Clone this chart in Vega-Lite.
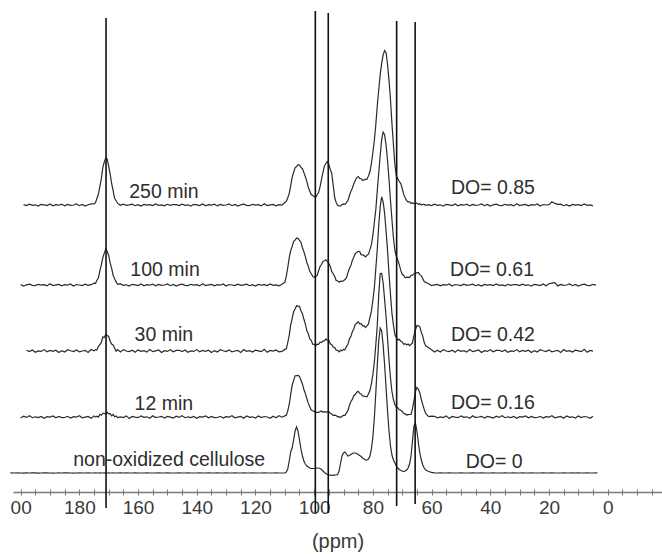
{
  "$schema": "https://vega.github.io/schema/vega-lite/v6.json",
  "width": 662,
  "height": 492,
  "autosize": {"type": "none"},
  "padding": {"left": 0, "top": 0, "right": 0, "bottom": 62},
  "background": "white",
  "config": {"view": {"stroke": null}, "font": "Liberation Sans"},
  "datasets": {
    "spectra": [
      {"p":[203.5,202,201,200,199,198,197,196,195,194],
       "a":[null,null,null,null,287.4,286.4,287.9,286.7,287.2,286.0],
       "b":[null,null,null,207.6,205.9,207.2,207.9,206.7,206.4,207.7],
       "c":[null,null,null,null,null,141.7,140.4,142.0,139.7,141.1],
       "d":[null,null,null,73.9,75.8,74.6,76.3,74.3,75.2,74.5],
       "e":[19.1,19.0,19.2,19.0,18.9,19.1,19.0,19.2,19.1,18.9]},
      {"p":[193,192,191,190,189,188,187,186,185,184],
       "a":[287.7,287.1,286.5,288.1,286.2,287.3,286.8,287.8,286.1,287.5],
       "b":[206.9,207.4,206.1,208.2,206.5,207.1,207.6,206.2,207.3,206.8],
       "c":[140.6,142.4,140.3,141.6,140.7,141.8,139.5,141.4,140.0,142.3],
       "d":[75.6,73.8,75.4,74.9,76.1,74.2,75.5,74.4,74.5,75.7],
       "e":[19.0,19.1,19.2,19.0,18.9,19.0,19.1,19.0,19.2,19.1]},
      {"p":[183,182,181,180,179,178],
       "a":[286.6,287.0,288.0,286.3,287.6,285.9],
       "b":[208.0,206.0,207.5,207.0,206.4,207.8],
       "c":[141.3,140.4,142.1,140.2,141.0,141.7],
       "d":[73.9,75.4,74.8,76.2,74.2,74.9],
       "e":[19.0,18.9,19.0,19.1,19.0,19.0]},
      {"p":[177,176,175,174.5,174,173.5,173,172.5,172,171.5],
       "a":[287.2,288.1,288.0,289.4,293.7,298.0,305.7,313.3,324.5,330.0],
       "b":[206.6,207.3,208.9,208.5,211.8,214.2,221.3,227.1,234.4,238.9],
       "c":[139.6,142.5,141.1,142.4,141.9,145.6,147.3,149.6,155.1,154.5],
       "d":[75.6,73.7,76.1,74.9,75.7,74.9,77.7,76.7,78.6,78.7],
       "e":[19.1,19.0,19.0,19.1,19.0,19.0,19.1,19.0,19.0,19.1]},
      {"p":[171,170.5,170,169.5,169,168.5,168,167.5,167,166],
       "a":[334.0,333.0,325.7,318.2,308.5,301.7,293.8,291.5,288.8,286.7],
       "b":[242.9,240.5,236.5,229.1,223.9,216.8,213.3,210.4,207.8,208.1],
       "c":[157.6,156.4,155.5,150.7,148.0,147.0,144.0,140.9,142.4,140.1],
       "d":[77.8,79.7,78.1,78.4,76.1,77.5,75.3,76.0,74.4,75.1],
       "e":[19.0,19.0,19.1,19.0,19.0,19.1,19.0,19.0,19.0,19.1]},
      {"p":[165,164,163,162,161,160,159,158,157,156],
       "a":[287.8,286.6,287.2,287.9,286.3,287.3,285.9,287.6,286.8,287.4],
       "b":[206.7,207.2,206.0,207.7,207.1,206.5,208.1,206.2,207.3,206.8],
       "c":[142.4,141.0,140.4,141.7,139.7,142.1,140.7,141.4,139.9,142.5],
       "d":[74.5,76.1,73.6,75.6,74.9,74.3,76.0,74.6,75.2,73.8],
       "e":[19.0,19.1,19.0,19.0,19.1,19.0,19.0,19.0,19.1,19.0]},
      {"p":[155,154,153,152,151,150,149,148,147,146],
       "a":[286.5,288.0,286.7,287.1,286.1,287.7,286.6,287.5,287.4,286.4],
       "b":[207.8,206.1,207.5,206.6,207.0,208.0,206.3,207.6,205.9,207.2],
       "c":[140.3,141.1,142.0,139.6,141.3,140.6,142.3,140.2,141.6,141.7],
       "d":[76.2,74.4,75.0,75.7,74.0,75.5,74.8,73.9,75.8,74.6],
       "e":[19.0,19.0,19.1,19.0,19.0,19.1,19.0,19.0,19.0,19.1]},
      {"p":[145,144,143,142,141,140,139,138,137,136],
       "a":[287.9,286.7,287.2,286.0,287.7,287.1,286.5,288.1,286.2,287.3],
       "b":[207.9,206.7,206.4,207.7,206.9,207.4,206.1,208.2,206.5,207.1],
       "c":[140.4,142.0,139.7,141.1,140.6,142.4,140.3,141.6,140.7,141.8],
       "d":[76.3,74.3,75.2,74.5,75.6,73.8,75.4,74.9,76.1,74.2],
       "e":[19.0,19.0,19.1,19.0,19.0,19.0,19.1,19.0,19.0,19.1]},
      {"p":[135,134,133,132,131,130,129,128,127,126],
       "a":[286.8,287.8,286.1,287.5,286.6,287.0,288.0,286.3,287.6,285.9],
       "b":[207.6,206.2,207.3,206.8,208.0,206.0,207.5,207.0,206.4,207.8],
       "c":[139.5,141.4,140.0,142.3,141.3,140.4,142.1,140.2,141.0,141.7],
       "d":[75.5,74.4,74.5,75.7,73.9,75.4,74.8,76.2,74.2,74.9],
       "e":[19.0,19.0,19.1,19.0,19.0,19.1,19.0,19.0,19.1,19.0]},
      {"p":[125,124,123,122,121,120,119,118,117,116],
       "a":[287.2,287.9,286.7,286.4,287.7,286.9,287.4,286.1,288.2,286.5],
       "b":[206.6,207.2,207.9,206.3,207.3,205.9,207.6,206.8,207.4,206.5],
       "c":[139.6,142.4,140.7,141.4,139.9,141.8,141.1,140.3,142.7,139.7],
       "d":[75.6,73.7,76.0,74.6,75.2,74.0,76.1,74.4,75.5,75.0],
       "e":[19.0,19.1,19.0,19.0,19.1,19.0,19.0,19.0,19.1,19.0]},
      {"p":[115,114,113,112,111],
       "a":[287.1,287.6,286.2,287.3,286.8],
       "b":[208.0,206.7,207.1,206.1,207.7],
       "c":[141.6,140.9,142.0,140.2,140.6],
       "d":[73.8,75.8,74.3,76.3,74.8],
       "e":[19.0,19.0,19.1,19.0,19.0]},
      {"p":[110,109.5,109,108.5,108,107.5,107,106.5,106,105.5],
       "a":[289.5,290.6,294.3,298.4,306.2,314.6,319.7,324.1,325.5,327.4],
       "b":[209.7,215.5,224.4,234.2,241.4,245.5,250.6,251.8,253.8,253.6],
       "c":[142.6,143.2,149.4,156.7,166.9,173.4,180.2,183.1,186.2,185.8],
       "d":[76.1,76.7,81.1,87.5,97.4,106.5,111.6,116.3,116.4,116.7],
       "e":[19,20,23,31,40,44,52,61,65,61]},
      {"p":[105,104.5,104,103.5,103,102.5,102,101.5,101,100.5],
       "a":[327.0,324.6,323.3,319.4,315.2,310.6,304.7,301.1,297.5,296.4],
       "b":[251.7,249.5,244.4,240.2,235.4,229.5,225.6,220.8,218.3,215.6],
       "c":[185.6,181.2,178.4,172.7,167.9,161.4,158.2,153.1,151.7,147.8],
       "d":[115.6,111.7,108.1,102.5,98.4,93.5,88.6,85.3,81.9,81.2],
       "e":[52,43,36,31,28,26,25,24,23.5,23.5]},
      {"p":[100,99.5,99,98.5,98,97.5,97,96.5,96,95.5],
       "a":[295.5,294.6,297.3,299.4,305.2,312.6,319.7,326.1,328.5,330.4],
       "b":[214.7,215.5,216.4,221.2,225.4,227.5,230.6,231.3,232.3,230.6],
       "c":[147.6,146.2,147.9,147.7,149.9,149.4,151.2,151.1,153.2,151.8],
       "d":[80.6,79.7,79.6,79.5,80.4,81.0,79.6,80.3,79.9,80.2],
       "e":[23.5,23.5,24,24,23.5,22.5,21,19.5,18.5,17.5]},
      {"p":[95,94.5,94,93.5,93,92.5,92,91.5,91,90.5],
       "a":[327.5,322.6,318.3,306.4,294.2,289.6,286.7,286.1,286.0,287.4],
       "b":[228.7,225.5,220.4,218.2,215.4,211.5,211.1,209.8,210.8,210.6],
       "c":[151.6,148.2,147.4,144.7,144.4,141.9,141.7,140.1,141.7,141.3],
       "d":[80.1,78.7,78.1,76.5,76.9,76.5,75.1,75.3,74.4,75.7],
       "e":[17,16.8,16.7,16.8,16.9,17,17.5,21,29,36]},
      {"p":[90,89.5,89,88.5,88,87.5,87,86.5,86,85.5],
       "a":[288.0,287.6,289.3,291.4,296.2,300.6,303.7,308.1,311.5,314.4],
       "b":[211.2,212.5,214.4,219.2,223.4,226.5,231.6,234.8,238.3,239.6],
       "c":[142.6,142.2,145.4,147.7,152.9,155.4,160.2,163.1,167.7,168.8],
       "d":[76.6,76.7,79.1,81.5,86.4,90.5,92.6,96.3,97.4,99.7],
       "e":[39,40,38,36,36.5,37.5,38.5,39,39,38.5]},
      {"p":[85,84.5,84,83.5,83,82.5,82,81.5,81,80.5],
       "a":[315.5,313.6,313.3,311.4,312.2,312.6,312.7,316.1,320.5,328.4],
       "b":[240.7,240.5,237.4,237.2,236.4,235.0,236.6,237.8,242.3,247.6],
       "c":[170.1,168.2,168.4,166.2,166.4,164.4,166.2,168.1,174.7,180.8],
       "d":[100.6,98.7,98.1,96.0,95.9,95.5,95.1,98.3,101.4,108.2],
       "e":[37.5,36.5,35.5,34,33,32,32,33,36,43]},
      {"p":[80,79.5,79,78.5,78,77.5,77,76.5,76,75.5],
       "a":[339.5,351.6,367.3,386.4,402.2,417.6,428.7,437.1,441.5,439.4],
       "b":[256.7,269.5,282.4,301.2,319.4,336.5,352.6,359.8,357.3,346.6],
       "c":[191.6,204.2,223.4,242.7,266.9,285.4,295.2,290.1,278.7,260.8],
       "d":[117.6,129.7,147.1,166.5,197.4,218.5,218.6,209.3,192.4,175.2],
       "e":[55,74,99,127,151,164,161,147,127,104]},
      {"p":[75,74.5,74,73.5,73,72.5,72,71.5,71,70.5],
       "a":[427.5,411.6,392.3,368.4,347.2,327.6,315.7,313.1,310.5,308.4],
       "b":[331.7,312.5,291.4,272.2,254.4,241.5,235.6,231.8,227.3,221.6],
       "c":[241.6,218.2,197.4,178.7,166.9,157.4,154.2,152.1,152.7,150.8],
       "d":[153.6,131.7,114.1,100.5,92.4,87.5,84.6,84.3,82.4,81.7],
       "e":[81,61,46,37,32,29,26,24,22.5,21.5]},
      {"p":[70,69.5,69,68.5,68,67.5,67,66.5,66,65.5],
       "a":[303.5,297.6,294.3,291.4,290.2,290.1,288.7,289.1,288.5,288.9],
       "b":[217.7,216.5,214.4,214.7,214.9,214.5,216.6,216.8,218.3,218.6],
       "c":[150.1,147.7,148.4,147.2,147.9,146.4,147.7,149.1,156.7,161.8],
       "d":[80.6,78.7,78.1,77.0,77.4,77.5,77.6,83.3,91.4,100.2],
       "e":[21,20.5,21,22,24,28,36,51,66,69]},
      {"p":[65,64.5,64,63.5,63,62.5,62],
       "a":[289.0,287.6,288.3,286.9,287.7,287.6,286.7],
       "b":[219.2,219.5,217.4,216.2,213.4,210.5,209.6],
       "c":[166.6,166.2,165.4,159.7,155.9,149.4,146.2],
       "d":[104.6,102.7,99.1,92.5,87.4,82.5,78.6],
       "e":[61,49,39,32,27,24,22]},
      {"p":[61,60,59,58,57,56,55,54,53,52],
       "a":[287.4,286.4,287.9,286.7,287.2,286.0,287.7,287.1,286.5,288.1],
       "b":[208.2,206.5,207.1,207.6,206.2,207.3,206.8,208.0,206.0,207.5],
       "c":[144.3,142.3,140.0,141.8,140.0,142.4,141.0,140.4,141.7,139.7],
       "d":[75.4,75.9,75.7,74.2,75.1,74.5,76.1,73.6,75.6,74.9],
       "e":[20.5,19.6,19.2,19.0,19.1,19.0,19.0,19.1,19.0,19.0]},
      {"p":[51,50,49,48,47,46,45,44,43,42],
       "a":[286.2,287.3,286.8,287.8,286.1,287.5,286.6,287.0,288.0,286.3],
       "b":[207.0,206.4,207.8,206.6,207.2,207.9,206.3,207.3,205.9,207.6],
       "c":[142.1,140.7,141.4,139.9,142.5,140.3,141.1,142.0,139.6,141.3],
       "d":[74.3,76.0,74.6,75.2,73.8,76.2,74.4,75.0,75.7,74.0],
       "e":[19.0,19.1,19.0,19.0,19.0,19.1,19.0,19.0,19.1,19.0]},
      {"p":[41,40,39,38,37,36,35,34,33,32],
       "a":[287.6,285.9,287.2,287.9,286.7,286.4,287.7,286.9,287.4,286.1],
       "b":[206.8,207.4,206.5,208.0,206.7,207.1,206.1,207.7,206.6,207.5],
       "c":[140.6,142.3,140.2,141.6,141.7,140.4,142.0,139.7,141.1,140.6],
       "d":[75.5,74.8,73.9,75.8,74.6,76.3,74.3,75.2,74.5,75.6],
       "e":[19.0,19.0,19.1,19.0,19.0,19.0,19.1,19.0,19.0,19.1]},
      {"p":[31,30,29,28,27,26,25,24,23,22],
       "a":[288.2,286.5,287.1,287.6,286.2,287.3,286.8,288.0,286.0,287.5],
       "b":[207.4,206.4,207.9,206.7,207.2,206.0,207.7,207.1,206.5,208.1],
       "c":[142.4,140.3,141.6,140.7,141.8,139.5,141.4,140.0,142.3,141.3],
       "d":[73.8,75.4,74.9,76.1,74.2,75.5,74.4,74.5,75.7,73.9],
       "e":[19.0,19.0,19.1,19.0,19.0,19.1,19.0,19.0,19.0,19.1]},
      {"p":[21,20,19,18,17,16,15,14,13,12],
       "a":[287.0,287.4,290.3,288.6,287.7,287.9,286.3,287.3,285.9,287.6],
       "b":[206.2,208.3,208.8,209.3,206.1,207.5,206.6,207.0,208.0,206.3],
       "c":[140.4,142.1,140.2,141.0,141.7,139.6,142.4,140.7,141.4,139.9],
       "d":[75.4,74.8,76.2,74.2,74.9,75.6,73.7,76.0,74.6,75.2],
       "e":[19.0,19.0,19.1,19.0,19.0,19.0,19.1,19.0,19.0,19.1]},
      {"p":[11,10,9,8,7,6,5,4,3.5],
       "a":[286.8,287.4,286.5,288.0,286.7,287.1,286.1,null,null],
       "b":[207.6,205.9,207.2,207.9,206.7,206.4,207.7,206.9,null],
       "c":[141.8,141.1,140.3,142.7,139.7,141.6,140.9,null,null],
       "d":[74.0,76.1,74.4,75.5,75.0,73.8,75.8,null,null],
       "e":[19.0,19.1,19.0,19.0,19.1,19.0,19.0,19.1,19.0]}
    ],
    "lines": [
      {"ppm": 170.9, "top": 474, "bot": -16},
      {"ppm": 99.6, "top": 481, "bot": -21},
      {"ppm": 95.2, "top": 479, "bot": -21},
      {"ppm": 71.9, "top": 471, "bot": -14},
      {"ppm": 65.6, "top": 470, "bot": -12}
    ],
    "labels": [
      {"t": "250 min", "px": 151.2, "py": 300},
      {"t": "100 min", "px": 150.8, "py": 222},
      {"t": "30 min", "px": 151.2, "py": 157},
      {"t": "12 min", "px": 151.2, "py": 88},
      {"t": "non-oxidized cellulose", "px": 149.4, "py": 32},
      {"t": "DO= 0.85", "px": 39.1, "py": 304},
      {"t": "DO= 0.61", "px": 39.4, "py": 222},
      {"t": "DO= 0.42", "px": 39.1, "py": 157},
      {"t": "DO= 0.16", "px": 39.1, "py": 89},
      {"t": "DO= 0", "px": 38.7, "py": 30}
    ]
  },
  "layer": [
    {
      "data": {"name": "spectra"},
      "transform": [
        {"flatten": ["p", "a", "b", "c", "d", "e"]},
        {"fold": ["a", "b", "c", "d", "e"], "as": ["s", "v"]}
      ],
      "mark": {"type": "line", "stroke": "#2a2a2a", "strokeWidth": 1.2, "interpolate": "linear"},
      "encoding": {
        "x": {
          "field": "p", "type": "quantitative",
          "scale": {"domain": [202.6, -18.5], "range": [13, 662], "nice": false, "zero": false},
          "axis": {
            "orient": "bottom",
            "values": [200,195,190,185,180,175,170,165,160,155,150,145,140,135,130,125,120,115,110,105,100,95,90,85,80,75,70,65,60,55,50,45,40,35,30,25,20,15,10,5,0,-5,-10,-15],
            "format": "d",
            "labelExpr": "datum.value == 200 ? '00' : (datum.value % 20 == 0 ? datum.label : '')",
            "tickSize": 3, "tickColor": "#777777", "tickWidth": 1,
            "domainColor": "#7a7a7a", "domainWidth": 1.5,
            "labelFont": "Liberation Sans", "labelFontSize": 19, "labelColor": "#3a3a3a",
            "labelPadding": 3, "labelOverlap": false, "labelFlush": false, "labelBound": false,
            "grid": false,
            "title": "(ppm)", "titleFont": "Liberation Sans", "titleFontSize": 20,
            "titleFontWeight": "normal", "titleColor": "#3a3a3a", "titlePadding": 14
          }
        },
        "y": {"field": "v", "type": "quantitative", "scale": {"domain": [0, 492], "nice": false, "zero": false}, "axis": null},
        "detail": {"field": "s"}
      }
    },
    {
      "data": {"name": "lines"},
      "mark": {"type": "rule", "stroke": "#111111", "strokeWidth": 1.6},
      "encoding": {
        "x": {
          "field": "ppm", "type": "quantitative",
          "axis": {
            "orient": "bottom",
            "values": [200,195,190,185,180,175,170,165,160,155,150,145,140,135,130,125,120,115,110,105,100,95,90,85,80,75,70,65,60,55,50,45,40,35,30,25,20,15,10,5,0,-5,-10,-15],
            "labels": false, "domain": false, "tickSize": 3, "tickColor": "#777777", "tickWidth": 1,
            "offset": -3, "title": null, "grid": false
          }
        },
        "y": {"field": "top", "type": "quantitative", "axis": null},
        "y2": {"field": "bot"}
      }
    },
    {
      "data": {"name": "labels"},
      "mark": {"type": "text", "font": "Liberation Sans", "fontSize": 19.5, "fill": "#2e2e2e", "align": "center", "baseline": "middle"},
      "encoding": {
        "x": {"field": "px", "type": "quantitative", "axis": null},
        "y": {"field": "py", "type": "quantitative", "axis": null},
        "text": {"field": "t"}
      }
    }
  ],
  "resolve": {"axis": {"x": "independent"}}
}
